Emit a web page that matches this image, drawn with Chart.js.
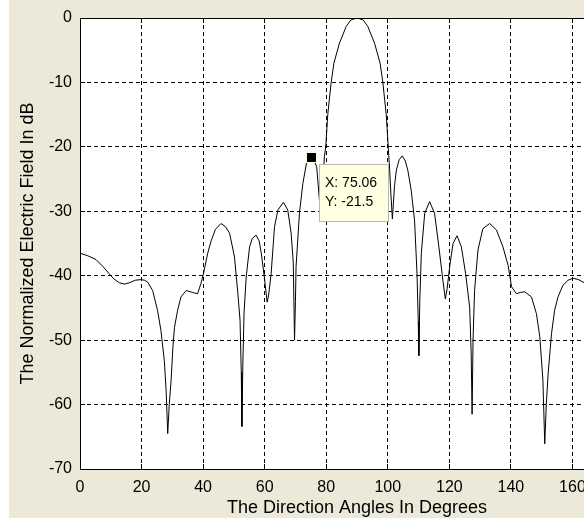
<!DOCTYPE html>
<html>
<head>
<meta charset="utf-8">
<title>Normalized Electric Field</title>
<script src="https://cdn.jsdelivr.net/npm/chart.js@4.4.0/dist/chart.umd.min.js"></script>
<style>
  html, body { margin: 0; padding: 0; background: #fff; overflow: hidden; }
  #wrap { position: absolute; left: 0; top: 0; width: 660px; height: 524px; }
</style>
</head>
<body>
<div id="wrap"><canvas id="chart"></canvas></div>
<script>
// direction angle (deg) and normalized field (dB)
const angles = [
  0, 2.5, 5.2, 7.5, 9.5, 11, 12.8, 14.5, 16, 18, 19.8, 21, 22, 23.6, 25.2, 26.3, 27.4, 28, 28.5, 29,
  29.6, 30.2, 30.7, 31.7, 32.8, 34.5, 36.6, 38.2, 39.3, 40.1, 41.5, 42.6, 44, 45.8, 47.3, 48.6, 50.2,
  51.3, 52, 52.4, 52.6, 52.9, 53.3, 54, 55.1, 56, 57.2, 58.2, 58.9, 59.9, 60.8, 61.3, 62.1, 63.2, 64.3,
  66.1, 67.5, 68.6, 69.3, 69.7, 70, 70.2, 71.3, 72.4, 73.6, 75.06, 76.2, 76.9, 77.8, 78.4, 78.9, 79.4,
  79.85, 80.5, 81.6, 82.5, 84.3, 86.5, 88, 90, 92, 93.5, 95.7, 97.5, 98.4, 99.5, 100.15, 100.6, 101,
  101.5, 102.2, 102.8, 103.7, 104.7, 105.7, 106.5, 107.6, 108.7, 109.5, 109.9, 110.1, 110.4, 110.9,
  112, 113.6, 115.2, 116.6, 117.9, 118.7, 119.3, 120.1, 121.2, 122.5, 123.9, 125.3, 126.6, 127.1,
  127.4, 127.7, 128.2, 129.3, 130.9, 133.1, 135.3, 137.4, 139.1, 140.2, 141.8, 143, 144.5, 146.7,
  148.3, 149.4, 150.4, 151, 151.5, 152.1, 153.2, 154.2, 155.3, 156.9, 158.6, 160.2, 162, 163.4, 164.5
];
const fieldDb = [
  -36.5, -36.9, -37.5, -38.6, -39.7, -40.5, -41.1, -41.3, -41.1, -40.7, -40.6, -40.7, -41, -42.3, -45.4, -48.5, -53.2, -58, -64.5, -60,
  -56.2, -51, -48, -45.4, -43.3, -42.3, -42.6, -42.8, -41.2, -39.7, -36.5, -34.6, -32.8, -31.9, -32.4, -33.4, -37.1,
  -42.8, -46.9, -55, -63.4, -54, -45.8, -40.2, -35.5, -34.2, -33.7, -34.6, -36.5, -40.2, -44.1, -43, -39.7, -32.4, -29.8,
  -28.6, -29.8, -33.4, -38, -50, -44, -38.6, -30.3, -25.7, -22.5, -21.5, -22.3, -23.1, -28.3, -31.5, -26, -21.5,
  -20, -15, -10, -7, -3.9, -1.3, -0.3, 0, -0.3, -1.3, -3.9, -7, -10, -15, -20, -23.5, -27.2,
  -31.2, -26, -23.6, -22, -21.4, -22.2, -23.6, -26.7, -31.4, -39.7, -47, -52.4, -44, -36.5,
  -30.3, -28.5, -30.3, -35.5, -40.7, -43.6, -42, -38.6, -35, -33.8, -35.5, -39.7, -44.9, -52,
  -61.5, -50, -42.3, -36, -32.7, -31.9, -32.9, -35.5, -38.4, -41.7, -42.8, -42.6, -42.5, -43.3,
  -45.9, -49.5, -56.2, -66.1, -60, -55.2, -49, -45.4, -43.3, -41.5, -40.7, -40.4, -40.6, -41, -41.1
];
const xTickValues = [0, 20, 40, 60, 80, 100, 120, 140, 160, 180];
const yTickValues = [-70, -60, -50, -40, -30, -20, -10, 0];
const tipX = 75.06;
const tipY = -21.5;

const xTitle = 'The Direction Angles In Degrees';
const yTitle = 'The Normalized Electric Field In dB';

function fontInstalled(name) {
  const c = document.createElement('canvas').getContext('2d');
  const sample = 'The Direction Angles 0123456789';
  c.font = '40px monospace';
  const base = c.measureText(sample).width;
  c.font = '40px "' + name + '", monospace';
  return c.measureText(sample).width !== base;
}

const narrow = fontInstalled('Liberation Sans Narrow');
const tickFont = narrow ? { family: '"Liberation Sans Narrow"', size: 20 } : { family: '"Liberation Sans", Arial', size: 16 };
const titleFont = narrow ? { family: '"Liberation Sans Narrow"', size: 21.5 } : { family: '"Liberation Sans", Arial', size: 18 };
const tickLh = tickFont.size * 1.2;
const titleLh = titleFont.size * 1.2;

// figure background, box, inward ticks and the data tip
const matlabFrame = {
  id: 'matlabFrame',
  beforeDraw(chart) {
    const { ctx, width, height, chartArea: a } = chart;
    ctx.save();
    ctx.fillStyle = '#ffffff';
    ctx.fillRect(0, 0, width, height);
    ctx.fillStyle = '#ece9d8';
    ctx.fillRect(9, 0, width - 9, 518);
    ctx.fillStyle = '#ffffff';
    ctx.fillRect(a.left, a.top, a.right - a.left, a.bottom - a.top);
    ctx.restore();
  },
  afterDatasetsDraw(chart) {
    const { ctx, chartArea: a, scales: { x, y } } = chart;
    const al = p => Math.round(p - 0.5) + 0.5;
    ctx.save();
    ctx.setLineDash([]);
    ctx.strokeStyle = '#000';
    ctx.lineWidth = 1;
    ctx.beginPath();
    x.ticks.forEach(t => {
      const p = al(x.getPixelForValue(t.value));
      ctx.moveTo(p, a.bottom); ctx.lineTo(p, a.bottom - 5);
      ctx.moveTo(p, a.top); ctx.lineTo(p, a.top + 5);
    });
    y.ticks.forEach(t => {
      const p = al(y.getPixelForValue(t.value));
      ctx.moveTo(a.left, p); ctx.lineTo(a.left + 5, p);
      ctx.moveTo(a.right, p); ctx.lineTo(a.right - 5, p);
    });
    ctx.stroke();
    ctx.strokeRect(al(a.left), al(a.top), Math.round(a.right - a.left), Math.round(a.bottom - a.top));

    const px = Math.round(x.getPixelForValue(tipX));
    const py = Math.round(y.getPixelForValue(tipY));
    ctx.fillStyle = '#ffffe1';
    ctx.fillRect(px - 6, py - 6, 12, 12);
    ctx.fillStyle = '#000';
    ctx.fillRect(px - 4, py - 4, 9, 9);

    ctx.fillStyle = '#ffffe1';
    ctx.fillRect(px + 8, py + 7, 70, 58);
    ctx.strokeStyle = '#b8b8b0';
    ctx.strokeRect(px + 8.5, py + 7.5, 69, 57);
    ctx.fillStyle = '#000';
    ctx.font = '14px "Liberation Sans", Arial, sans-serif';
    ctx.textAlign = 'left';
    ctx.textBaseline = 'alphabetic';
    ctx.fillText('X: ' + tipX.toFixed(2), px + 14, py + 30);
    ctx.fillText('Y: ' + tipY, px + 14, py + 49);
    ctx.restore();
  }
};

new Chart(document.getElementById('chart'), {
  type: 'line',
  data: {
    datasets: [{
      data: angles.map((a, i) => ({ x: a, y: fieldDb[i] })),
      borderColor: '#000',
      borderWidth: 1,
      pointRadius: 0,
      tension: 0,
      fill: false
    }]
  },
  options: {
    responsive: true,
    maintainAspectRatio: false,
    animation: false,
    events: [],
    layout: { padding: { left: 0, top: 18, right: 26, bottom: 0 } },
    plugins: { legend: { display: false }, tooltip: { enabled: false } },
    scales: {
      x: {
        type: 'linear',
        min: 0,
        max: 180,
        afterBuildTicks: s => { s.ticks = xTickValues.map(v => ({ value: v })); },
        afterFit: s => { s.height = 55; },
        grid: { color: '#000', lineWidth: 1, drawTicks: false },
        border: { display: false, dash: [4, 3] },
        ticks: { color: '#000', font: tickFont, padding: 487.5 - 469 - tickLh / 2, maxRotation: 0, autoSkip: false },
        title: { display: true, text: xTitle, color: '#000', font: titleFont, padding: { top: 0, bottom: 508 - (524 - titleLh / 2) < 0 ? 524 - 508 - titleLh / 2 : 0 } }
      },
      y: {
        type: 'linear',
        min: -70,
        max: 0,
        afterBuildTicks: s => { s.ticks = yTickValues.map(v => ({ value: v })); },
        afterFit: s => { s.width = 80; },
        grid: { color: '#000', lineWidth: 1, drawTicks: false },
        border: { display: false, dash: [4, 3] },
        ticks: { color: '#000', font: tickFont, padding: 8 },
        title: { display: true, text: yTitle, color: '#000', font: titleFont, padding: { top: 28.3 - titleLh / 2, bottom: 0 } }
      }
    }
  },
  plugins: [matlabFrame]
});
</script>
</body>
</html>
